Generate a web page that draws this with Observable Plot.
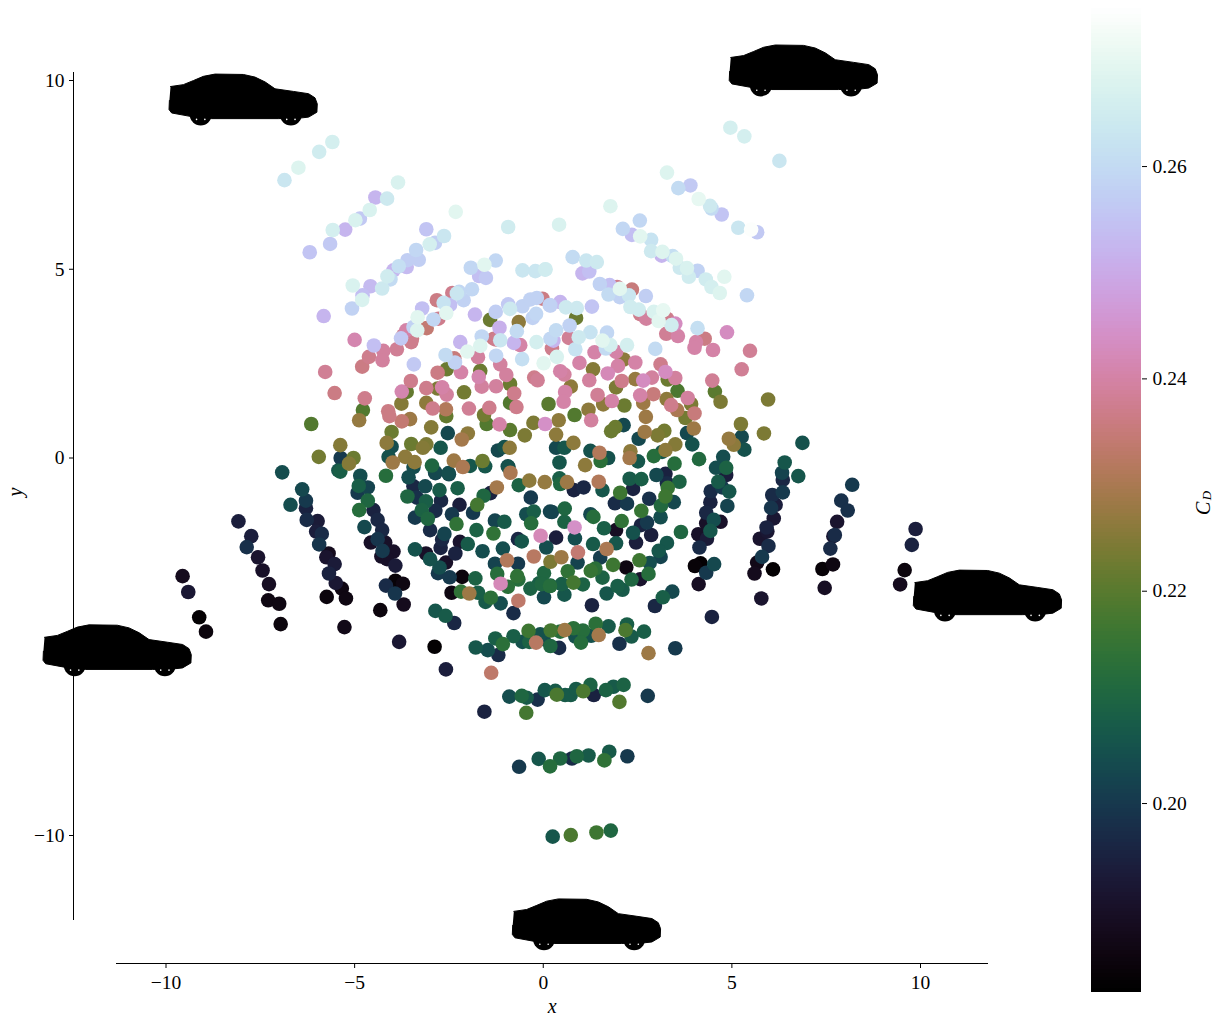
<!DOCTYPE html>
<html>
<head>
<meta charset="utf-8">
<script src="https://cdn.jsdelivr.net/npm/d3@7"></script>
<script src="https://cdn.jsdelivr.net/npm/@observablehq/plot@0.6"></script>
<style>
html,body{margin:0;padding:0;background:#fff}
#wrap{display:flex;width:1214px;height:1018px}
svg{display:block}
</style>
</head>
<body>
<div id="wrap"></div>
<script>
const xTicks = [-10,-5,0,5,10];
const yTicks = [-10,-5,0,5,10];
const cdTicks = [0.20,0.22,0.24,0.26];
const cdDomain = [0.1822,0.2747];
const fontFamily = "'Liberation Serif','DejaVu Serif',serif";

// [x, y, Cd]
const upperLeft = [
[-5.59,8.37,.266],[-5.94,8.11,.265],[-6.49,7.69,.268],[-6.86,7.36,.263],[-3.85,7.30,.267],[-4.45,6.90,.252],[-4.14,6.87,.264],[-4.60,6.57,.267],[-4.86,6.34,.256],[-4.98,6.30,.267],
[-5.58,6.04,.266],[-5.25,6.05,.252],[-5.65,5.67,.256],[-6.19,5.45,.255],[-2.32,6.52,.269],[-0.93,6.12,.265],[-3.10,6.06,.255],[-2.63,5.88,.263],[-2.87,5.70,.257],[-3.01,5.66,.266],
[-3.37,5.51,.259],[-3.30,5.25,.257],[-3.60,5.24,.257],[-3.62,5.06,.253],[-3.97,4.97,.252],[-3.83,5.08,.261],[-4.13,4.81,.265],[-4.05,4.73,.260],[-4.27,4.49,.264],[-5.05,4.57,.267],
[-4.58,4.55,.253],[-4.79,4.31,.254],[-4.80,4.19,.267],[-5.07,3.96,.258],[-5.82,3.76,.252],[-1.92,5.04,.259],[-1.26,5.23,.259],[-1.56,5.12,.269],[-1.70,4.82,.254],[-1.52,4.77,.256],
[-0.55,4.97,.263],[-0.21,4.95,.263],[0.06,5.0,.265],[-1.89,4.47,.259],[-2.23,4.40,.259],[-2.41,4.37,.237],[-2.82,4.18,.236],[-2.29,4.36,.263],[-2.11,4.18,.258],[-2.64,4.11,.262],
[-2.47,4.06,.254],[-3.21,3.96,.254],[-2.57,3.84,.269],[-3.33,3.73,.269],[-2.78,3.69,.237],[-2.91,3.67,.259],[-1.81,3.80,.252],[-3.09,3.44,.234],[-3.63,3.38,.240],[-3.44,3.47,.258],
[-3.34,3.38,.268],[-3.71,3.25,.237],[-3.48,3.16,.236],[-3.77,3.17,.256],[-1.41,3.66,.222],[-1.16,3.45,.251],[-1.26,3.87,.257],[-0.88,3.95,.264],[-0.93,4.07,.256],[-0.55,4.02,.258],
[-0.34,4.20,.258],[-0.17,4.24,.258],[-0.02,4.22,.236],[0.17,4.05,.258],[-0.19,3.82,.259],[-0.28,3.71,.258],[-0.65,3.60,.226],[-0.70,3.36,.260],[-1.31,3.16,.236],[-1.14,3.12,.263],
[-1.63,3.22,.259],[-5.0,3.13,.241],[-2.2,3.07,.252],[-0.78,3.05,.252],[-0.18,3.07,.266],[0.19,3.16,.259]
];
const upperRight = [
[4.96,8.75,.266],[5.33,8.52,.266],[6.26,7.87,.263],[3.28,7.56,.268],[3.90,7.22,.256],[3.58,7.15,.260],[4.12,6.86,.270],[4.46,6.61,.260],[4.42,6.68,.264],[4.73,6.45,.255],
[5.17,6.10,.263],[5.67,5.98,.256],[5.51,6.05,.274],[1.78,6.67,.268],[0.42,6.18,.267],[2.56,6.29,.259],[2.11,6.07,.259],[2.35,5.91,.254],[2.57,5.87,.269],[2.86,5.78,.262],
[3.16,5.46,.268],[2.86,5.48,.264],[3.14,5.36,.252],[3.43,5.35,.261],[3.52,5.28,.268],[3.62,5.04,.264],[3.81,5.03,.267],[4.09,4.96,.258],[3.86,4.80,.265],[4.31,4.73,.265],
[4.46,4.53,.266],[4.80,4.80,.269],[4.68,4.37,.268],[5.40,4.31,.259],[0.78,5.32,.260],[1.14,5.23,.263],[1.42,5.19,.264],[0.05,4.99,.264],[1.04,4.89,.252],[1.22,4.94,.254],
[1.50,4.61,.258],[1.76,4.58,.254],[1.96,4.53,.237],[2.35,4.46,.235],[2.03,4.48,.269],[1.73,4.33,.260],[2.03,4.26,.258],[2.27,4.31,.263],[2.72,4.29,.257],[2.31,4.0,.265],
[2.53,3.93,.265],[2.57,3.81,.237],[2.73,3.69,.239],[2.93,3.87,.267],[3.18,3.91,.270],[3.06,3.63,.269],[3.40,3.52,.265],[3.50,3.56,.243],[3.28,3.69,.237],[3.26,3.29,.238],
[3.57,3.23,.240],[4.09,3.44,.261],[4.28,3.16,.236],[4.05,3.07,.240],[4.87,3.33,.243],[1.29,4.01,.255],[0.89,3.97,.264],[0.60,3.99,.264],[0.45,4.13,.252],[0.19,4.04,.257],
[0.87,3.71,.222],[0.70,3.51,.258],[0.34,3.38,.260],[1.25,3.33,.262],[1.69,3.32,.259],[0.94,3.20,.264],[0.68,3.18,.238],[0.27,3.11,.252],[1.57,3.11,.269]
];
const middleRight = [
[0.23,2.90,.237],[0.36,2.68,.267],[0.01,2.51,.269],[0.85,2.88,.262],[1.36,2.80,.240],[1.78,2.99,.266],[1.66,2.90,.260],[1.93,2.81,.240],[2.22,2.99,.266],[2.97,2.89,.260],
[2.13,2.61,.226],[2.44,2.53,.240],[1.98,2.44,.240],[0.96,2.52,.240],[1.32,2.35,.225],[0.45,2.30,.240],[0.56,2.21,.239],[1.71,2.24,.242],[1.22,2.06,.239],[0.73,1.89,.226],
[0.58,1.75,.240],[0.54,1.49,.240],[0.14,1.43,.220],[1.44,1.67,.238],[2.08,2.04,.237],[2.44,2.09,.227],[1.93,1.87,.224],[2.65,2.05,.243],[2.88,2.13,.239],[3.11,2.48,.237],
[3.24,2.28,.243],[3.50,2.12,.239],[3.30,2.08,.222],[3.56,1.78,.218],[2.57,1.66,.240],[2.92,1.69,.235],[1.82,1.51,.240],[1.59,1.42,.226],[2.15,1.39,.222],[2.65,1.46,.228],
[3.27,1.56,.226],[3.83,1.59,.239],[3.39,1.40,.237],[3.92,1.43,.224],[3.55,1.27,.230],[4.01,1.18,.235],[3.77,1.06,.223],[1.20,1.28,.226],[0.83,1.14,.219],[1.27,1.00,.239],
[0.41,1.00,.226],[0.05,0.90,.244],[2.72,1.09,.228],[3.99,0.78,.228],[0.34,0.62,.226],[0.80,0.40,.226],[1.91,0.82,.222],[1.80,0.71,.222],[2.13,0.87,.203],[2.69,0.69,.228],
[3.03,0.60,.224],[3.21,0.72,.223],[2.53,0.51,.203],[3.81,0.66,.203],[3.95,0.36,.205],[3.50,0.36,.225],[0.34,0.27,.203],[0.56,0.27,.206],[1.25,0.19,.205],[1.49,0.14,.231],
[1.72,0,.205],[1.52,-0.08,.213],[0.43,-0.12,.206],[1.11,-0.19,.226],[2.31,0.18,.226],[2.29,0,.229],[2.51,-0.09,.206],[3.24,0.21,.226],[3.15,0.16,.206],[2.93,0.05,.212],
[3.48,-0.15,.212],[4.13,-0.03,.211],[5.24,0.90,.224],[4.92,0.51,.227],[5.05,0.35,.226],[5.26,0.56,.203],[5.33,0.22,.205],[5.85,0.65,.224],[5.96,1.55,.224],[5.48,2.84,.238],
[5.26,2.35,.238],[4.48,2.05,.238],[4.55,1.76,.220],[4.70,1.49,.224],[4.50,2.86,.240],[4.01,2.92,.240],[6.87,0.40,.205],[4.77,0.03,.204],[4.58,-0.26,.204],[4.85,-0.26,.209],[6.40,-0.12,.206]
];
const middleLeft = [
[-4.49,2.98,.254],[-3.50,3.07,.237],[-3.88,2.88,.238],[-4.24,2.84,.239],[-4.62,2.68,.237],[-4.26,2.59,.239],[-4.80,2.42,.236],[-5.78,2.28,.238],[-5.53,1.72,.236],[-4.73,1.58,.237],
[-3.43,2.48,.256],[-3.51,2.04,.237],[-2.80,2.26,.236],[-2.56,2.35,.222],[-3.10,1.85,.237],[-3.62,1.75,.221],[-3.75,1.76,.241],[-2.80,1.84,.224],[-2.68,1.87,.240],[-2.56,1.68,.239],
[-3.10,1.46,.226],[-3.76,1.44,.225],[-4.78,1.27,.219],[-4.88,1.0,.227],[-2.93,1.31,.237],[-2.58,1.29,.231],[-2.57,1.11,.221],[-4.11,1.24,.236],[-4.08,1.11,.236],[-3.53,1.03,.228],
[-3.75,0.97,.234],[-6.15,0.90,.219],[-2.97,0.81,.225],[-4.02,0.69,.222],[-2.53,0.66,.203],[-2.0,0.65,.226],[-2.16,0.49,.229],[-4.15,0.40,.226],[-4.02,0.30,.204],[-3.50,0.37,.222],
[-3.10,0.36,.224],[-3.19,0.27,.225],[-2.72,0.27,.206],[-5.38,0.34,.225],[-5.95,0.03,.223],[-5.37,0,.200],[-5.03,0,.222],[-5.15,-0.15,.225],[-5.43,-0.33,.206],[-4.10,0.03,.205],
[-3.99,-0.12,.228],[-3.66,0.03,.226],[-3.41,-0.11,.226],[-3.44,-0.24,.204],[-2.95,-0.2,.210],[-2.87,-0.37,.203],[-2.37,-0.07,.228],[-2.13,-0.24,.230],[-2.51,-0.4,.204],[-1.94,-0.21,.206],
[-1.61,-0.08,.222],[-1.54,-0.22,.206],[-1.20,0.2,.203],[-1.03,0.29,.205],[-0.89,0.27,.226],[-0.94,-0.22,.204],[-0.49,0.6,.224],[-0.88,0.74,.220],[-0.26,0.93,.224],[-1.16,0.89,.240],
[-1.5,0.90,.219],[-1.57,1.14,.223],[-1.43,1.33,.237],[-1.97,1.31,.238],[-0.71,1.35,.237],[-0.88,1.46,.219],[-0.77,1.71,.237],[-0.88,1.96,.222],[-1.25,1.90,.239],[-1.63,1.89,.239],
[-1.71,2.15,.241],[-1.67,2.31,.222],[-2.1,1.74,.223],[-2.18,2.27,.240],[-2.34,2.53,.258],[-2.59,2.73,.260],[-2.36,2.64,.235],[-2.01,2.82,.269],[-1.73,2.67,.239],[-1.67,2.97,.268],
[-1.25,3.14,.237],[-0.61,2.99,.240],[-1.25,2.71,.259],[-1.14,2.48,.239],[-0.98,2.2,.239],[-0.56,2.62,.261],[-0.24,2.13,.237],[-0.15,2.06,.238]
];
const lowerLeft = [
[-6.92,-0.38,.204],[-6.39,-0.83,.203],[-6.70,-1.24,.204],[-6.29,-1.13,.200],[-6.29,-1.33,.195],[-6.27,-1.64,.197],[-5.98,-1.67,.193],[-6.02,-1.95,.194],[-5.87,-2.01,.197],[-5.94,-2.29,.199],
[-5.69,-2.53,.188],[-5.75,-2.63,.191],[-5.53,-2.81,.193],[-5.68,-3.06,.195],[-5.50,-3.31,.192],[-5.34,-3.46,.186],[-5.74,-3.68,.185],[-5.23,-3.72,.186],[-5.27,-4.48,.187],[-5.38,-0.36,.208],
[-4.85,-0.47,.204],[-4.17,-0.47,.212],[-4.89,-0.74,.208],[-4.65,-0.78,.202],[-4.92,-0.92,.200],[-4.65,-1.13,.210],[-4.88,-1.38,.212],[-4.50,-1.38,.195],[-4.74,-1.83,.203],[-4.39,-1.64,.196],
[-4.27,-1.91,.196],[-4.57,-2.24,.190],[-4.19,-2.24,.190],[-4.39,-2.15,.199],[-3.97,-2.48,.190],[-4.26,-2.46,.200],[-4.29,-2.61,.190],[-4.14,-2.68,.190],[-3.92,-2.85,.193],[-4.17,-3.38,.197],
[-3.92,-3.25,.184],[-3.72,-3.33,.186],[-3.93,-3.59,.199],[-4.32,-4.03,.185],[-3.70,-3.88,.188],[-3.82,-4.87,.192],[-3.57,-0.51,.204],[-3.44,-0.75,.196],[-3.13,-0.75,.203],[-3.35,-1.05,.198],
[-3.60,-1.02,.210],[-2.75,-0.85,.207],[-2.86,-0.40,.202],[-2.50,-0.43,.203],[-2.27,-0.80,.208],[-2.71,-1.13,.196],[-3.11,-1.15,.208],[-3.22,-1.38,.209],[-2.86,-1.40,.197],[-3.06,-1.61,.210],
[-3.40,-1.58,.200],[-2.22,-1.24,.194],[-2.42,-1.49,.200],[-2.30,-1.75,.214],[-3.0,-1.91,.197],[-2.62,-2.01,.202],[-2.68,-2.16,.196],[-2.72,-2.38,.195],[-2.21,-2.22,.191],[-2.0,-2.28,.207],
[-2.33,-2.53,.195],[-3.40,-2.42,.205],[-3.11,-2.53,.190],[-3.0,-2.68,.205],[-2.58,-2.77,.190],[-2.75,-2.9,.204],[-2.79,-3.05,.200],[-2.48,-3.16,.200],[-2.15,-3.15,.185],[-1.8,-3.19,.209],
[-2.43,-3.57,.186],[-2.18,-3.54,.214],[-1.96,-3.59,.228],[-1.73,-3.57,.208],[-1.53,-3.81,.207],[-1.39,-3.7,.213],[-1.13,-3.85,.204],[-0.79,-4.11,.197],[-0.66,-3.78,.233],[-0.34,-3.46,.209],
[-0.94,-3.41,.213],[-1.13,-3.33,.242],[-1.22,-3.07,.212],[-1.28,-2.8,.202],[-0.96,-2.71,.231],[-0.67,-2.8,.200],[-0.69,-3.13,.214],[-0.66,-3.22,.212],[-0.25,-2.61,.232],[-1.61,-2.47,.204],
[-1.07,-2.4,.204],[-0.67,-2.15,.196],[-0.57,-2.21,.206],[-1.32,-2.0,.214],[-1.77,-1.91,.209],[-1.28,-1.66,.202],[-1.03,-1.69,.207],[-1.86,-1.45,.200],[-1.75,-1.24,.217],[-1.58,-1.0,.210],
[-1.40,-0.93,.195],[-1.23,-0.78,.229],[-0.65,-0.72,.209],[-0.37,-0.6,.226],[0.04,-0.64,.227],[-0.33,-1.05,.200],[-0.45,-1.49,.204],[-0.25,-1.42,.208],[-0.32,-1.73,.212],[0.18,-1.42,.202],
[-0.07,-2.06,.242],[0.08,-2.37,.204],[0.19,-2.75,.224],[0.02,-3.05,.210],[0.18,-3.39,.212],[-0.11,-3.32,.208],[0.02,-3.69,.203],[-0.92,-0.24,.205],[-0.87,-0.39,.230],[-2.86,-4.05,.206],
[-2.59,-4.18,.207],[-2.36,-4.37,.196]
];
const lowerRight = [
[3.0,-0.45,.203],[3.24,-0.42,.195],[3.61,-0.63,.209],[2.60,-0.56,.208],[2.29,-0.55,.207],[3.28,-0.67,.197],[1.47,-0.63,.231],[1.57,-0.85,.206],[1.07,-0.78,.196],[0.81,-0.85,.195],
[0.43,-0.54,.208],[0.63,-0.64,.228],[0.45,-0.69,.210],[2.38,-0.82,.195],[2.04,-0.92,.216],[3.30,-0.79,.215],[3.24,-1.02,.216],[1.90,-1.2,.197],[2.22,-1.21,.200],[2.81,-1.08,.198],
[3.46,-1.17,.203],[3.12,-1.26,.211],[2.60,-1.40,.215],[3.11,-1.57,.204],[2.75,-1.71,.200],[2.59,-1.78,.195],[0.23,-1.43,.202],[0.57,-1.34,.210],[0.56,-1.69,.209],[1.25,-1.49,.203],
[1.33,-1.56,.212],[2.08,-1.67,.214],[1.61,-1.86,.208],[1.93,-1.91,.189],[2.38,-1.98,.205],[2.86,-2.04,.194],[2.46,-2.24,.194],[1.93,-2.26,.206],[1.32,-2.28,.207],[0.83,-1.84,.244],
[0.84,-2.13,.204],[0.34,-2.11,.194],[0.92,-2.50,.234],[0.91,-2.77,.202],[0.48,-2.63,.228],[1.68,-2.41,.230],[1.51,-2.64,.201],[3.28,-2.25,.206],[3.65,-1.96,.210],[3.06,-2.46,.206],
[3.11,-2.62,.202],[2.82,-2.78,.204],[2.55,-2.71,.216],[1.85,-2.83,.216],[2.2,-2.9,.186],[1.38,-2.93,.213],[1.26,-2.99,.215],[1.57,-3.17,.209],[0.65,-3.0,.214],[0.80,-3.3,.217],
[1.05,-3.35,.209],[0.49,-3.34,.208],[0.19,-3.38,.207],[-0.04,-3.34,.210],[0.56,-3.62,.206],[1.68,-3.59,.206],[1.29,-3.90,.195],[1.97,-3.39,.208],[2.1,-3.49,.207],[2.34,-3.22,.210],
[2.57,-3.21,.191],[2.79,-3.07,.212],[3.42,-3.54,.203],[3.17,-3.69,.208],[2.96,-3.92,.196],[4.47,-4.21,.195],[4.12,-3.34,.189],[4.02,-2.86,.184],[4.17,-2.79,.183],[4.53,-2.81,.203],
[4.32,-3.04,.200],[4.11,-2.02,.190],[4.14,-2.37,.197],[4.34,-2.14,.193],[4.32,-1.45,.196],[4.52,-1.64,.204],[4.43,-1.93,.206],[4.70,-1.69,.190],[4.32,-1.73,.190],[4.43,-1.17,.195],
[4.44,-0.88,.197],[4.85,-0.45,.194],[4.64,-0.63,.207],[4.74,-0.78,.200],[4.93,-0.89,.206],[4.88,-1.27,.202]
];
const farRight = [
[6.76,-0.48,.206],[6.33,-0.39,.202],[6.35,-0.58,.196],[6.35,-0.91,.200],[6.07,-0.98,.197],[6.16,-1.24,.194],[6.04,-1.32,.199],[6.11,-1.60,.192],[5.92,-1.84,.195],[5.94,-1.95,.192],
[5.74,-2.14,.191],[5.97,-2.33,.197],[5.80,-2.62,.200],[5.67,-2.77,.187],[5.60,-3.06,.188],[6.09,-2.95,.183],[5.78,-3.72,.191],[8.19,-0.71,.200],[7.90,-1.13,.198],[8.07,-1.39,.198],
[7.79,-1.69,.191],[7.69,-2.07,.192],[7.73,-2.04,.197],[7.61,-2.40,.197],[7.68,-2.82,.186],[7.40,-2.94,.184],[7.46,-3.44,.189],[9.87,-1.88,.194],[9.77,-2.30,.195],[9.58,-2.97,.185],[9.46,-3.35,.188]
];
const farLeft = [
[-9.56,-3.13,.188],[-9.41,-3.55,.192],[-9.12,-4.22,.183],[-8.94,-4.60,.185],[-8.08,-1.68,.194],[-7.74,-2.07,.194],[-7.86,-2.36,.198],[-7.56,-2.63,.191],[-7.44,-2.98,.190],[-7.27,-3.34,.189],
[-7.29,-3.77,.186],[-7.0,-3.86,.186],[-6.96,-4.40,.185]
];
const bottomRows = [
[-2.88,-5.0,.183],[-2.58,-5.6,.194],[-1.79,-5.02,.206],[-1.47,-5.09,.204],[-1.19,-5.22,.197],[-1.27,-4.78,.208],[-1.07,-4.93,.213],[-0.79,-4.72,.208],[-0.55,-4.87,.205],[-0.39,-4.58,.216],
[-0.08,-4.67,.205],[0.01,-4.80,.204],[-0.19,-4.89,.232],[-0.37,-4.87,.209],[0.19,-4.98,.210],[0.42,-5.03,.197],[0.2,-4.57,.217],[0.45,-4.60,.212],[0.57,-4.56,.228],[0.80,-4.51,.213],
[0.85,-4.73,.205],[1.05,-4.57,.212],[1.27,-4.71,.205],[1.0,-4.89,.212],[1.47,-4.69,.229],[1.39,-4.39,.213],[1.73,-4.46,.207],[2.22,-4.41,.208],[2.18,-4.56,.218],[2.34,-4.73,.207],
[2.67,-4.60,.208],[2.02,-4.92,.198],[2.79,-5.17,.228],[3.50,-5.04,.200],[-1.38,-5.69,.233],[-0.90,-6.32,.204],[-0.57,-6.30,.210],[-0.44,-6.35,.207],[-0.15,-6.40,.198],[0.04,-6.15,.206],
[0.32,-6.17,.207],[0.36,-6.27,.218],[0.58,-6.28,.207],[0.73,-6.28,.207],[0.87,-6.12,.207],[1.06,-6.18,.218],[1.25,-6.01,.209],[1.34,-6.28,.195],[1.66,-6.15,.209],[1.86,-6.06,.207],
[2.13,-6.01,.209],[2.02,-6.46,.219],[2.77,-6.3,.200],[-0.45,-6.75,.217],[-1.56,-6.72,.195],[-0.64,-8.18,.200],[-0.12,-7.97,.206],[0.18,-8.17,.212],[0.45,-7.96,.210],[0.76,-7.96,.197],
[0.89,-7.9,.210],[1.2,-7.88,.207],[1.75,-7.78,.207],[1.62,-8.01,.214],[2.23,-7.9,.200],[0.25,-10.03,.206],[0.73,-9.99,.218],[1.41,-9.92,.216],[1.79,-9.87,.210]
];

// car silhouette: offsets from the car's top-left corner, in axis units
const carOutlineX = [.04,.38,.65,.91,1.22,1.97,2.28,2.55,2.81,3.30,3.70,3.87,3.93,3.92,3.70,3.52,2.90,1.13,.56,.07,0,.01];
const carOutlineY = [-.33,-.28,-.17,-.06,0,-.01,-.08,-.21,-.39,-.46,-.52,-.63,-.79,-1.01,-1.14,-1.16,-1.18,-1.18,-1.12,-1.03,-.94,-.70];
const carWheelX = [.84,3.23];
const carWheelY = -1.07;
const carWheelHubX = [.73,.95,3.12,3.34];
const carHubY = -1.20;
const carCornersX = [-9.92,4.93,9.81,-13.26,-0.82];
const carCornersY = [10.17,10.94,-2.97,-4.42,-11.68];

const points = d3.sort([...upperLeft,...upperRight,...middleRight,...middleLeft,...lowerLeft,...lowerRight,...farRight,...farLeft,...bottomRows].map(([x,y,cd])=>({x,y,cd})), d=>d.cd);
const carPts = carCornersX.flatMap((cx,i)=>carOutlineX.map((dx,j)=>({car:i,x:cx+dx,y:carCornersY[i]+carOutlineY[j]})));
const wheels = carCornersX.flatMap((cx,i)=>carWheelX.map(dx=>({x:cx+dx,y:carCornersY[i]+carWheelY})));
const hubs = carCornersX.flatMap((cx,i)=>carWheelHubX.map(dx=>({x:cx+dx,y:carCornersY[i]+carHubY})));

const colorScale = {type:"linear",domain:cdDomain,interpolate:d3.interpolateCubehelixDefault};
const minus = d=>String(d).replace("-","\u2212");
const textStyle = {fontFamily,fontSize:"19.5px",color:"#000",background:"#fff",overflow:"visible"};

const main = Plot.plot({
  width:1080,height:1018,marginLeft:74,marginBottom:55,marginTop:0,marginRight:0,
  style:textStyle,
  x:{domain:[-10,10],range:[165.5,920],axis:null},
  y:{domain:[-10,10],range:[835,80],axis:null},
  color:colorScale,
  marks:[
    Plot.ruleX([-12.44],{y1:-12.26,y2:10.22,stroke:"#000",strokeWidth:1,shapeRendering:"crispEdges"}),
    Plot.ruleY([-13.38],{x1:-11.3,x2:11.8,stroke:"#000",strokeWidth:1,shapeRendering:"crispEdges"}),
    Plot.axisX({anchor:"bottom",ticks:xTicks,tickSize:5,tickPadding:7,tickFormat:minus,label:null,fontSize:19.5}),
    Plot.axisY({anchor:"left",ticks:yTicks,tickSize:5,tickPadding:5,tickFormat:minus,label:null,fontSize:19.5}),
    Plot.text(["x"],{x:0.24,y:-14.52,fontStyle:"italic",fontSize:20}),
    Plot.text(["y"],{x:-14.0,y:-0.9,fontStyle:"italic",fontSize:20,rotate:-90}),
    Plot.dot(points,{x:"x",y:"y",r:7.3,fill:"cd"}),
    Plot.line(carPts,{x:"x",y:"y",z:"car",fill:"#000",stroke:"#000",strokeWidth:1}),
    Plot.dot(wheels,{x:"x",y:"y",r:11,fill:"#000"}),
    Plot.dot(hubs,{x:"x",y:"y",r:0.8,fill:"#fff"})
  ]
});

const cdStep = (cdDomain[1]-cdDomain[0])/256;
const cdSteps = d3.range(cdDomain[0],cdDomain[1],cdStep);
const bar = Plot.plot({
  width:134,height:1018,marginLeft:0,marginRight:73,marginTop:0,marginBottom:0,
  style:textStyle,
  x:{domain:[0,1],range:[11,61],axis:null},
  y:{domain:cdDomain,range:[992,10],axis:null},
  color:colorScale,
  marks:[
    Plot.rect(cdSteps,{x1:0,x2:1,y1:d=>d,y2:d=>d+cdStep*1.5,fill:d=>d,shapeRendering:"crispEdges"}),
    Plot.axisY({anchor:"right",ticks:cdTicks,tickSize:5,tickPadding:6,tickFormat:d=>d.toFixed(2),label:null,fontSize:19.5}),
    Plot.text(["C"],{x:2.24,y:0.2278,fontStyle:"italic",fontSize:20,rotate:-90}),
    Plot.text(["D"],{x:2.31,y:0.2290,fontStyle:"italic",fontSize:13,rotate:-90})
  ]
});
const wrap=document.getElementById("wrap");
wrap.append(main,bar);
</script>
</body>
</html>
